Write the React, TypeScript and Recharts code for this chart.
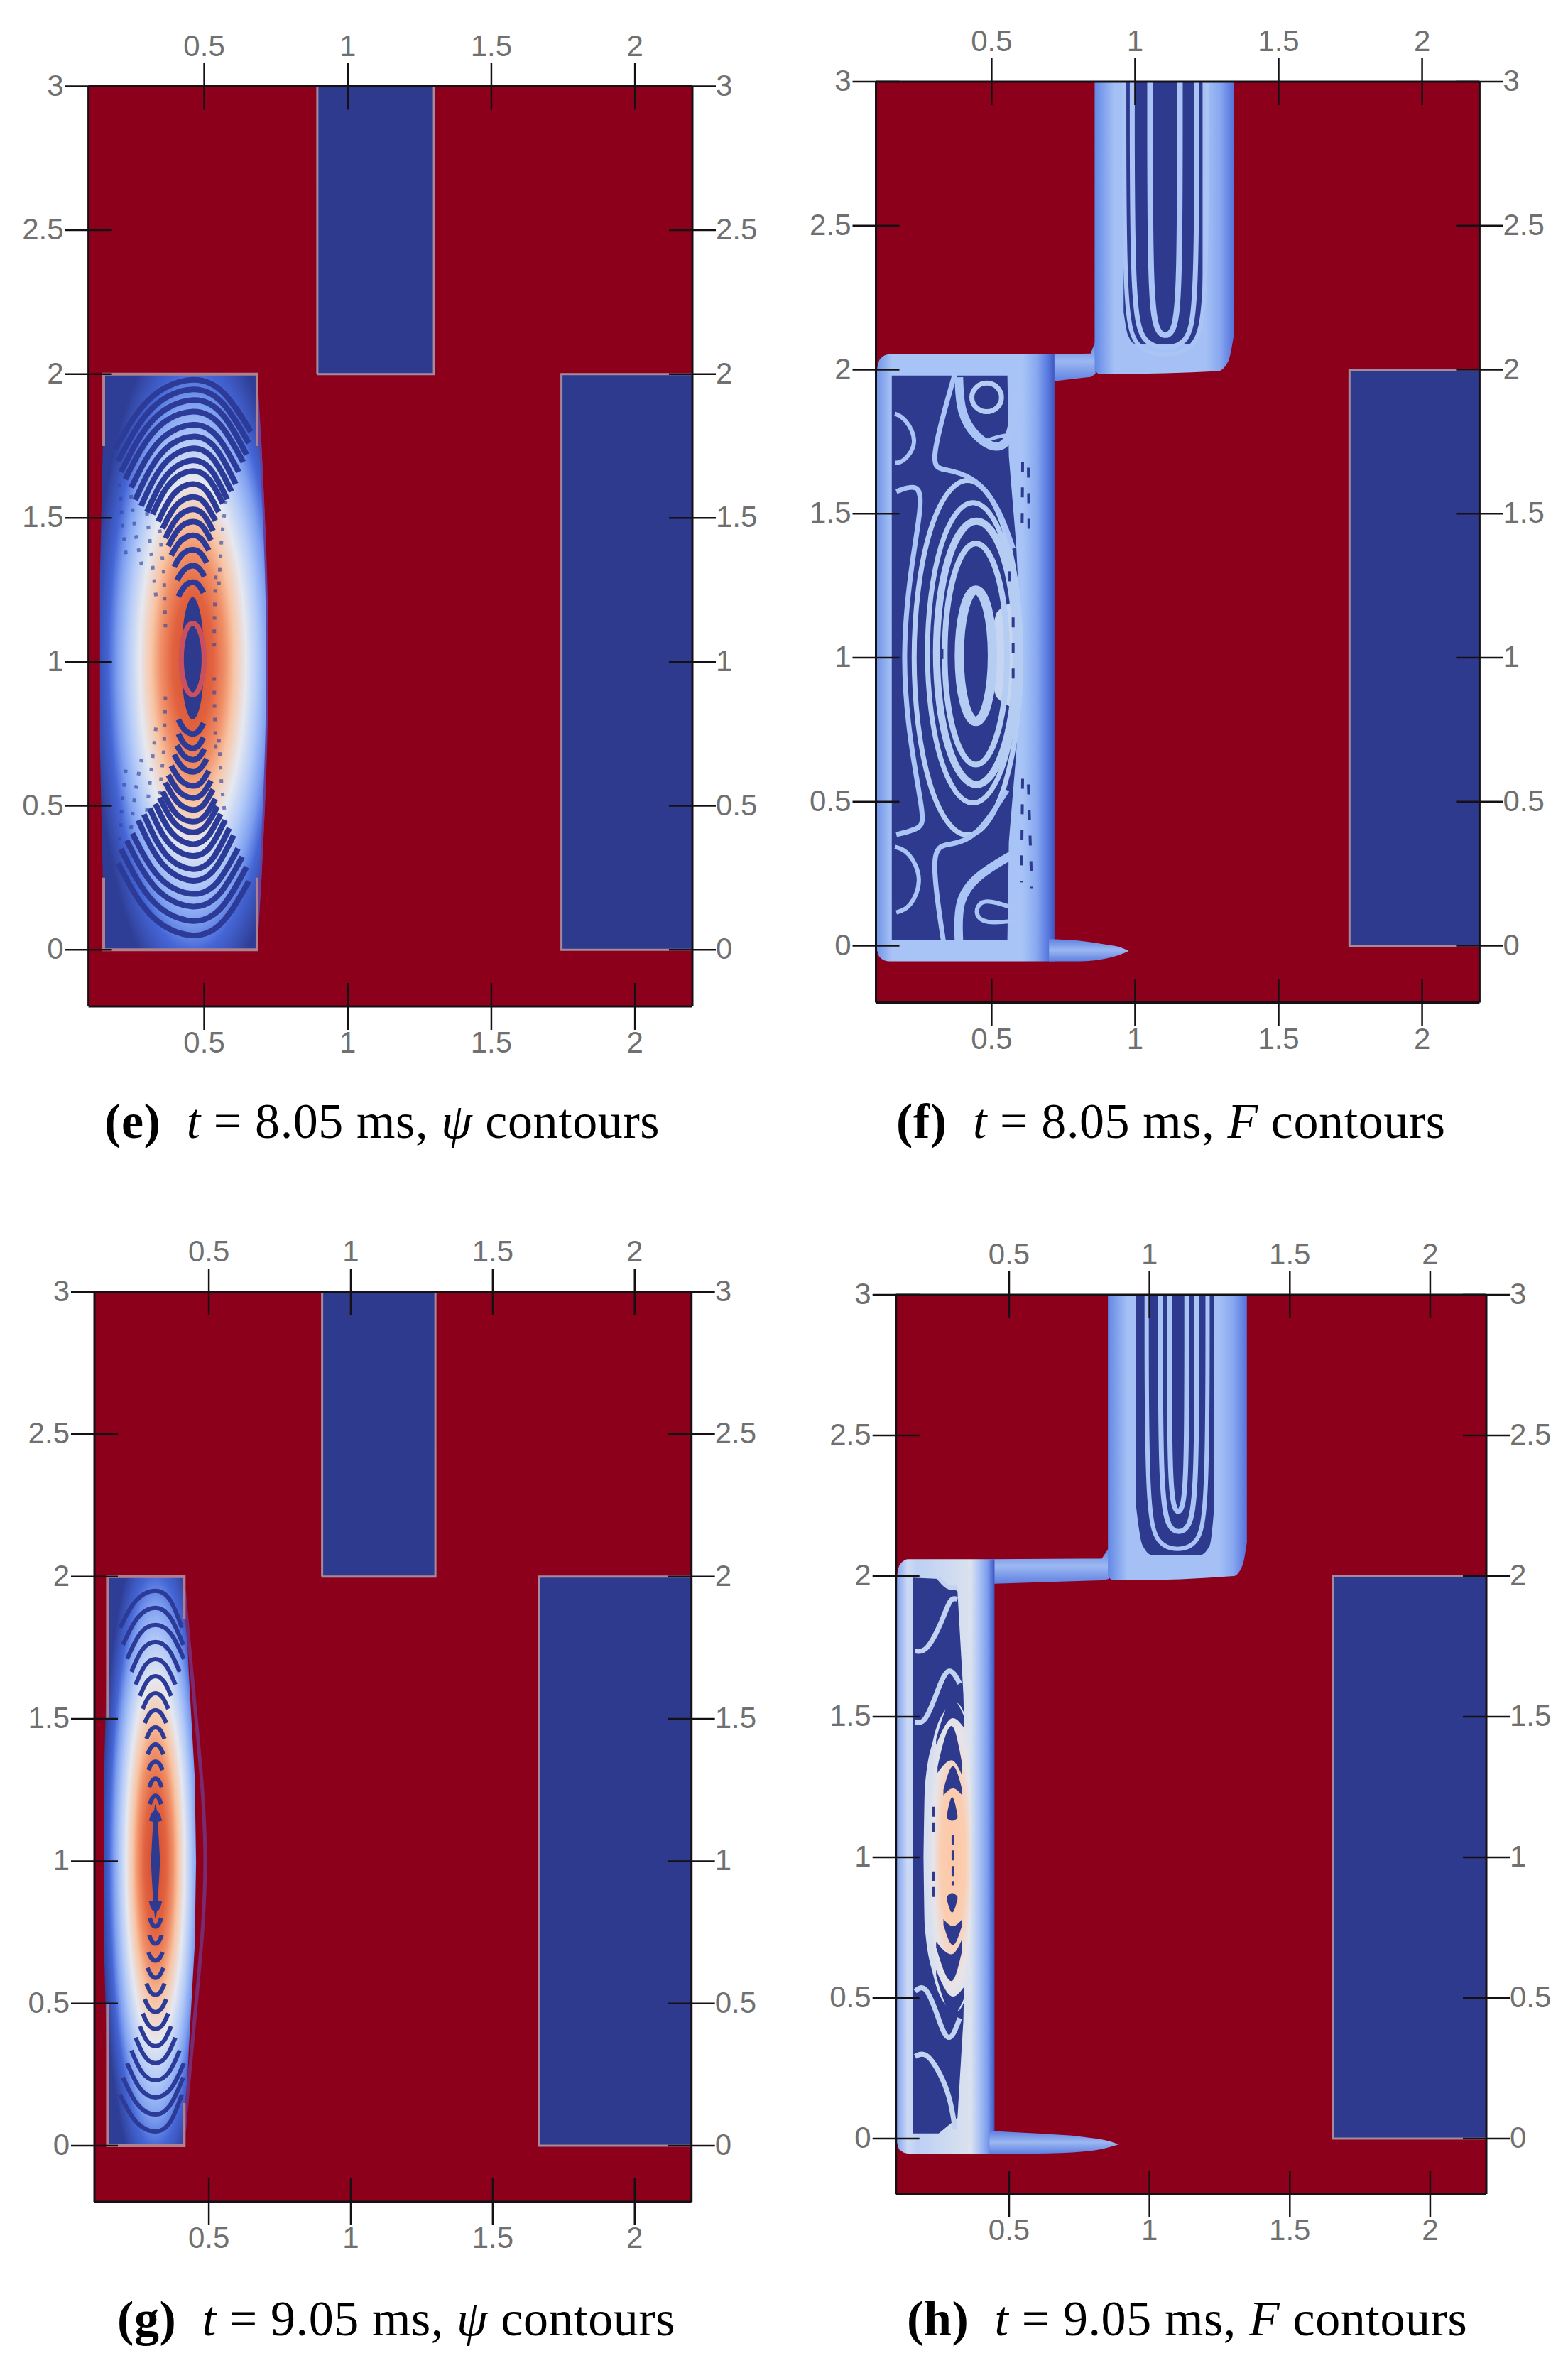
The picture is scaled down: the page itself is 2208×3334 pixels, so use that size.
import React from "react";
import { Area, ComposedChart, Line, XAxis, YAxis } from "recharts";

// axis values shared by all four panels
const xDomain = [0.097, 2.2];
const yDomain = [-0.197, 3];
const xTicks = [0.5, 1, 1.5, 2];
const yTicks = [0, 0.5, 1, 1.5, 2, 2.5, 3];

const RED = "#8c001c";
const DARK = "#2d3a8e";
const EDGE = "#a58a9c";
const PALE = "#a9c4f5";

// filled regions: rows of [x, low, high]
const frameRows = [[0.097, -0.197, 3], [2.2, -0.197, 3]];
const topBlockE = [[0.894, 2, 3], [1.3, 2, 3]];
const rightBlockE = [[1.744, 0, 2], [2.2, 0, 2]];
const topBlockG = [[0.899, 2, 3], [1.298, 2, 3]];
const rightBlockG = [[1.663, 0, 2], [2.2, 0, 2]];
const rightBlockF = [[1.747, 0, 2], [2.2, 0, 2]];
const rightBlockH = [[1.653, 0, 2], [2.2, 0, 2]];

const bulgeE = [[0.137, 0.7, 1.3], [0.149, 0.15, 1.85], [0.1491, 0, 2], [0.684, 0, 2], [0.7, 0.25, 1.75], [0.715, 0.6, 1.4], [0.72, 1, 1]];
const bulgeG = [[0.132, 0.65, 1.35], [0.143, 0.2, 1.8], [0.1431, 0, 2], [0.413, 0, 2], [0.43, 0.35, 1.65], [0.45, 0.7, 1.3], [0.455, 1, 1]];
const coreE = [[0.42, 1.01, 1.01], [0.43, 0.87, 1.15], [0.46, 0.8, 1.225], [0.49, 0.87, 1.15], [0.5, 1.01, 1.01]];
const coreG = [[0.296, 1, 1], [0.312, 0.8, 1.2], [0.328, 1, 1]];

const columnF = [[0.097, 0.0, 1.98], [0.11, -0.04, 2.035], [0.14, -0.054, 2.053], [0.719, -0.054, 2.053]];
const linkF = [[0.7, 1.958, 2.053], [0.845, 1.975, 2.056], [0.862, 1.985, 2.1]];
const channelF = [[0.859, 2.0, 3], [0.875, 1.985, 3], [0.92, 1.985, 3], [1.29, 1.995, 3], [1.325, 2.03, 3], [1.344, 2.12, 3]];
const tailF = [[0.7, -0.054, 0.024], [0.8, -0.054, 0.018], [0.9, -0.044, 0.004], [0.95, -0.03, -0.006], [0.978, -0.018, -0.018]];
const innerF = [[0.152, 0.34, 1.58], [0.1521, 0.02, 1.98], [0.555, 0.02, 1.98], [0.56, 0.36, 1.7], [0.585, 0.66, 1.4], [0.6, 0.95, 1.1]];
const glowF = [[0.49, 0.98, 1.0], [0.52, 0.86, 1.16], [0.6, 0.82, 1.2]];
const shaftF = [[0.96, 2.2, 3], [0.975, 2.12, 3], [1.0, 2.09, 3], [1.2, 2.09, 3], [1.225, 2.12, 3], [1.235, 2.2, 3]];

const columnH = [[0.097, 0.0, 1.98], [0.11, -0.04, 2.04], [0.14, -0.053, 2.06], [0.448, -0.053, 2.06]];
const linkH = [[0.43, 1.972, 2.06], [0.83, 1.985, 2.062], [0.855, 1.99, 2.1]];
const channelH = [[0.852, 2.0, 3], [0.87, 1.985, 3], [0.92, 1.985, 3], [1.3, 2.0, 3], [1.332, 2.04, 3], [1.347, 2.12, 3]];
const tailH = [[0.43, -0.053, 0.027], [0.6, -0.053, 0.018], [0.78, -0.045, 0.004], [0.86, -0.03, -0.01], [0.89, -0.021, -0.021]];
const innerH = [[0.157, 0.018, 1.994], [0.249, 0.018, 1.99], [0.316, 0.073, 1.946], [0.337, 0.42, 1.58], [0.345, 0.8, 1.25]];
const haloH = [[0.195, 1, 1], [0.2, 0.75, 1.25], [0.23, 0.58, 1.42], [0.27, 0.48, 1.52], [0.31, 0.45, 1.55], [0.345, 0.5, 1.5], [0.36, 0.7, 1.3], [0.365, 1, 1]];
const shaftH = [[0.952, 2.25, 3], [0.975, 2.11, 3], [1.01, 2.075, 3], [1.18, 2.075, 3], [1.215, 2.11, 3], [1.231, 2.25, 3]];
const crescentsH = [
  [[0.278, 1.139, 1.15], [0.297, 1.13, 1.214], [0.316, 1.139, 1.15]],
  [[0.266, 1.22, 1.24], [0.3, 1.245, 1.324], [0.333, 1.22, 1.24]],
  [[0.245, 1.3, 1.32], [0.295, 1.345, 1.467], [0.333, 1.29, 1.33]],
  [[0.24, 1.4, 1.42], [0.3, 1.495, 1.56], [0.34, 1.46, 1.5]],
  [[0.278, 0.85, 0.861], [0.297, 0.804, 0.873], [0.316, 0.85, 0.861]],
  [[0.266, 0.76, 0.78], [0.3, 0.688, 0.755], [0.333, 0.76, 0.78]],
  [[0.24, 0.68, 0.7], [0.295, 0.56, 0.655], [0.333, 0.67, 0.71]],
  [[0.24, 0.58, 0.6], [0.3, 0.44, 0.505], [0.34, 0.5, 0.54]],
];

// contour lines: flat x, y, x, y ... lists
const outlineTopE = [0.894, 2, 0.894, 3, 1.3, 3, 1.3, 2, 0.894, 2];
const outlineRightE = [2.2, 2, 1.744, 2, 1.744, 0, 2.2, 0];
const outlineTopG = [0.899, 2, 0.899, 3, 1.298, 3, 1.298, 2, 0.899, 2];
const outlineRightG = [2.2, 2, 1.663, 2, 1.663, 0, 2.2, 0];
const outlineRightF = [2.2, 2, 1.747, 2, 1.747, 0, 2.2, 0];
const outlineRightH = [2.2, 2, 1.653, 2, 1.653, 0, 2.2, 0];

const psiEdgesE = [
  [0.15, 1.75, 0.15, 2, 0.684, 2, 0.684, 1.75],
  [0.15, 0.25, 0.15, 0, 0.684, 0, 0.684, 0.25],
];
const psiRimE = [0.684, 1.95, 0.708, 1.5, 0.72, 1, 0.708, 0.5, 0.684, 0.05];
const psiEdgesG = [
  [0.143, 1.5, 0.143, 2, 0.413, 2, 0.413, 1.85],
  [0.143, 0.5, 0.143, 0, 0.413, 0, 0.413, 0.15],
];
const psiRimG = [0.413, 1.95, 0.455, 1.5, 0.487, 1, 0.455, 0.5, 0.413, 0.05];

const psiDotsE = [
  [0.205, 1.62, 0.215, 1.48, 0.23, 1.35],
  [0.245, 1.58, 0.26, 1.45, 0.285, 1.32],
  [0.3, 1.52, 0.315, 1.38, 0.335, 1.2],
  [0.345, 1.46, 0.36, 1.3, 0.365, 1.12],
  [0.575, 1.56, 0.56, 1.42, 0.55, 1.25],
  [0.54, 1.3, 0.535, 1.12, 0.535, 1.05],
  [0.205, 0.38, 0.215, 0.52, 0.23, 0.65],
  [0.245, 0.42, 0.26, 0.55, 0.285, 0.68],
  [0.3, 0.48, 0.315, 0.62, 0.335, 0.8],
  [0.345, 0.54, 0.36, 0.7, 0.365, 0.88],
  [0.575, 0.44, 0.56, 0.58, 0.55, 0.75],
  [0.54, 0.7, 0.535, 0.88, 0.535, 0.95],
];
const psiRingE = [0.504, 1.01, 0.491, 1.107, 0.46, 1.148, 0.429, 1.107, 0.416, 1.01, 0.429, 0.913, 0.46, 0.872, 0.491, 0.913];

const psiArcsE = [
  [0.19, 1.74, 0.3115, 1.915, 0.46, 1.98, 0.571, 1.931, 0.6625, 1.8],
  [0.2, 1.697, 0.317, 1.88, 0.46, 1.947, 0.567, 1.896, 0.655, 1.76],
  [0.21, 1.66, 0.3225, 1.842, 0.46, 1.91, 0.563, 1.86, 0.6475, 1.72],
  [0.225, 1.635, 0.331, 1.807, 0.46, 1.87, 0.557, 1.822, 0.636, 1.694],
  [0.246, 1.606, 0.342, 1.765, 0.46, 1.824, 0.548, 1.78, 0.62, 1.66],
  [0.26, 1.563, 0.35, 1.724, 0.46, 1.783, 0.5425, 1.739, 0.61, 1.618],
  [0.28, 1.542, 0.361, 1.688, 0.46, 1.742, 0.534, 1.702, 0.595, 1.592],
  [0.3, 1.52, 0.372, 1.651, 0.46, 1.7, 0.526, 1.664, 0.58, 1.565],
  [0.32, 1.513, 0.383, 1.6225, 0.46, 1.663, 0.518, 1.633, 0.565, 1.5505],
  [0.34, 1.488, 0.394, 1.583, 0.46, 1.618, 0.5095, 1.592, 0.55, 1.5205],
  [0.355, 1.463, 0.402, 1.543, 0.46, 1.573, 0.503, 1.551, 0.539, 1.4905],
  [0.365, 1.43, 0.408, 1.503, 0.46, 1.53, 0.499, 1.51, 0.531, 1.455],
  [0.375, 1.402, 0.413, 1.464, 0.46, 1.487, 0.495, 1.47, 0.524, 1.423],
  [0.385, 1.37, 0.419, 1.421, 0.46, 1.44, 0.491, 1.426, 0.516, 1.3875],
  [0.395, 1.33, 0.424, 1.374, 0.46, 1.39, 0.487, 1.378, 0.509, 1.345],
  [0.405, 1.284, 0.43, 1.32, 0.46, 1.334, 0.483, 1.324, 0.501, 1.2965],
  [0.41, 1.227, 0.4325, 1.2635, 0.46, 1.277, 0.481, 1.267, 0.4975, 1.24],
  [0.2, 0.3, 0.317, 0.1175, 0.46, 0.05, 0.567, 0.1, 0.655, 0.2375],
  [0.21, 0.35, 0.3225, 0.1675, 0.46, 0.1, 0.563, 0.15, 0.6475, 0.2875],
  [0.23, 0.38, 0.3335, 0.212, 0.46, 0.15, 0.555, 0.196, 0.6325, 0.3225],
  [0.25, 0.404, 0.3445, 0.251, 0.46, 0.194, 0.547, 0.236, 0.6175, 0.3515],
  [0.27, 0.45, 0.3555, 0.297, 0.46, 0.24, 0.538, 0.282, 0.6025, 0.3975],
  [0.29, 0.47, 0.3665, 0.331, 0.46, 0.28, 0.53, 0.318, 0.5875, 0.4225],
  [0.31, 0.491, 0.3775, 0.3705, 0.46, 0.326, 0.522, 0.359, 0.5725, 0.45],
  [0.33, 0.507, 0.3885, 0.405, 0.46, 0.367, 0.5135, 0.395, 0.5575, 0.472],
  [0.345, 0.528, 0.397, 0.44, 0.46, 0.408, 0.507, 0.432, 0.546, 0.498],
  [0.355, 0.55, 0.402, 0.473, 0.46, 0.445, 0.503, 0.466, 0.539, 0.524],
  [0.365, 0.581, 0.408, 0.512, 0.46, 0.486, 0.499, 0.505, 0.531, 0.557],
  [0.375, 0.607, 0.413, 0.549, 0.46, 0.527, 0.495, 0.543, 0.524, 0.587],
  [0.385, 0.639, 0.419, 0.588, 0.46, 0.569, 0.491, 0.583, 0.516, 0.6215],
  [0.395, 0.678, 0.424, 0.634, 0.46, 0.618, 0.487, 0.63, 0.509, 0.663],
  [0.405, 0.71, 0.43, 0.6735, 0.46, 0.66, 0.483, 0.67, 0.501, 0.6975],
  [0.41, 0.75, 0.4325, 0.7135, 0.46, 0.7, 0.481, 0.71, 0.4975, 0.7375],
  [0.41, 0.8, 0.4325, 0.7635, 0.46, 0.75, 0.481, 0.76, 0.4975, 0.7875],
];

const psiArcsG = [
  [0.187, 1.82, 0.243, 1.915, 0.312, 1.95, 0.365, 1.915, 0.405, 1.82],
  [0.197, 1.76, 0.249, 1.855, 0.312, 1.89, 0.365, 1.855, 0.41, 1.76],
  [0.212, 1.71, 0.257, 1.798, 0.312, 1.83, 0.367, 1.798, 0.412, 1.71],
  [0.227, 1.665, 0.265, 1.742, 0.312, 1.77, 0.359, 1.742, 0.397, 1.665],
  [0.242, 1.62, 0.274, 1.686, 0.312, 1.71, 0.35, 1.686, 0.382, 1.62],
  [0.257, 1.58, 0.282, 1.631, 0.312, 1.65, 0.342, 1.631, 0.367, 1.58],
  [0.267, 1.535, 0.287, 1.575, 0.312, 1.59, 0.337, 1.575, 0.357, 1.535],
  [0.274, 1.485, 0.291, 1.518, 0.312, 1.53, 0.333, 1.518, 0.35, 1.485],
  [0.28, 1.43, 0.294, 1.459, 0.312, 1.47, 0.33, 1.459, 0.344, 1.43],
  [0.284, 1.375, 0.297, 1.4, 0.312, 1.41, 0.327, 1.4, 0.34, 1.375],
  [0.287, 1.32, 0.298, 1.342, 0.312, 1.35, 0.326, 1.342, 0.337, 1.32],
  [0.29, 1.26, 0.3, 1.282, 0.312, 1.29, 0.324, 1.282, 0.334, 1.26],
  [0.292, 1.2, 0.301, 1.222, 0.312, 1.23, 0.323, 1.222, 0.332, 1.2],
  [0.296, 1.14, 0.303, 1.162, 0.312, 1.17, 0.321, 1.162, 0.328, 1.14],
  [0.187, 0.18, 0.243, 0.085, 0.312, 0.05, 0.365, 0.085, 0.405, 0.18],
  [0.197, 0.24, 0.249, 0.145, 0.312, 0.11, 0.365, 0.145, 0.41, 0.24],
  [0.212, 0.29, 0.257, 0.202, 0.312, 0.17, 0.367, 0.202, 0.412, 0.29],
  [0.227, 0.335, 0.265, 0.258, 0.312, 0.23, 0.359, 0.258, 0.397, 0.335],
  [0.242, 0.38, 0.274, 0.314, 0.312, 0.29, 0.35, 0.314, 0.382, 0.38],
  [0.257, 0.42, 0.282, 0.369, 0.312, 0.35, 0.342, 0.369, 0.367, 0.42],
  [0.267, 0.465, 0.287, 0.425, 0.312, 0.41, 0.337, 0.425, 0.357, 0.465],
  [0.274, 0.515, 0.291, 0.482, 0.312, 0.47, 0.333, 0.482, 0.35, 0.515],
  [0.28, 0.57, 0.294, 0.541, 0.312, 0.53, 0.33, 0.541, 0.344, 0.57],
  [0.284, 0.625, 0.297, 0.6, 0.312, 0.59, 0.327, 0.6, 0.34, 0.625],
  [0.287, 0.68, 0.298, 0.658, 0.312, 0.65, 0.326, 0.658, 0.337, 0.68],
  [0.29, 0.74, 0.3, 0.718, 0.312, 0.71, 0.324, 0.718, 0.334, 0.74],
  [0.292, 0.8, 0.301, 0.778, 0.312, 0.77, 0.323, 0.778, 0.332, 0.8],
  [0.296, 0.86, 0.303, 0.838, 0.312, 0.83, 0.321, 0.838, 0.328, 0.86],
];

const ringsF = [
  { w: 7, pts: [0.622, 1.0, 0.562, 1.482, 0.416, 1.682, 0.27, 1.482, 0.21, 1.0, 0.27, 0.518, 0.416, 0.318, 0.562, 0.518] },
  { w: 7, pts: [0.611, 1.017, 0.559, 1.425, 0.435, 1.595, 0.311, 1.425, 0.259, 1.017, 0.311, 0.609, 0.435, 0.439, 0.559, 0.609] },
  { w: 10, pts: [0.601, 1.017, 0.556, 1.375, 0.447, 1.524, 0.338, 1.375, 0.293, 1.017, 0.338, 0.659, 0.447, 0.51, 0.556, 0.659] },
  { w: 8, pts: [0.565, 1.013, 0.53, 1.313, 0.445, 1.439, 0.36, 1.313, 0.325, 1.013, 0.36, 0.713, 0.445, 0.587, 0.53, 0.713] },
  { w: 13, pts: [0.509, 1.007, 0.49, 1.186, 0.445, 1.26, 0.4, 1.186, 0.381, 1.007, 0.4, 0.828, 0.445, 0.754, 0.49, 0.828] },
  { w: 7, pts: [0.54, 1.904, 0.523, 1.943, 0.483, 1.959, 0.443, 1.943, 0.425, 1.904, 0.443, 1.865, 0.483, 1.849, 0.523, 1.865] },
];
const wispsF = [
  { w: 7, pts: [0.373, 1.989, 0.279, 1.662, 0.332, 1.655, 0.431, 1.634, 0.521, 1.535, 0.575, 1.379] },
  { w: 7, pts: [0.168, 1.577, 0.246, 1.606, 0.258, 1.535, 0.217, 1.308, 0.188, 1.01, 0.213, 0.712, 0.266, 0.442, 0.254, 0.407, 0.168, 0.386] },
  { w: 6, pts: [0.163, 1.847, 0.2, 1.833, 0.246, 1.747, 0.192, 1.677, 0.163, 1.677] },
  { w: 6, pts: [0.163, 0.343, 0.213, 0.329, 0.262, 0.23, 0.217, 0.13, 0.168, 0.116] },
  { w: 7, pts: [0.332, 0.017, 0.283, 0.343, 0.349, 0.35, 0.447, 0.372, 0.554, 0.54] },
  { w: 12, pts: [0.386, 1.974, 0.39, 1.847, 0.447, 1.762, 0.521, 1.72, 0.57, 1.76, 0.587, 1.92] },
  { w: 12, pts: [0.386, 0.017, 0.381, 0.159, 0.447, 0.244, 0.57, 0.315] },
  { w: 6, pts: [0.587, 0.088, 0.472, 0.074, 0.439, 0.116, 0.464, 0.159, 0.513, 0.152, 0.579, 0.13] },
  { w: 5, pts: [0.47, 1.75, 0.52, 1.768, 0.565, 1.775] },
];
const dashesF = [
  [0.608, 1.68, 0.606, 1.42],
  [0.628, 1.66, 0.63, 1.44],
  [0.575, 1.14, 0.575, 0.925],
  [0.563, 1.3, 0.561, 1.22],
  [0.608, 0.58, 0.604, 0.22],
  [0.628, 0.56, 0.64, 0.2],
  [0.327, 1.03, 0.327, 0.97],
];
const uLinesF = [
  { w: 8, pts: [1.052, 3, 1.052, 2.25, 1.075, 2.13, 1.105, 2.115, 1.135, 2.13, 1.156, 2.25, 1.156, 3] },
  { w: 7, pts: [0.99, 3, 0.99, 2.2, 1.03, 2.09, 1.105, 2.07, 1.18, 2.09, 1.215, 2.2, 1.215, 3] },
];
const uDarkF = [0.962, 3, 0.962, 2.2, 1.0, 2.07, 1.105, 2.045, 1.21, 2.07, 1.25, 2.2, 1.25, 3];

const linesH = [
  { w: 7, pts: [0.165, 1.481, 0.199, 1.474, 0.24, 1.577, 0.283, 1.693, 0.324, 1.618] },
  { w: 7, pts: [0.165, 1.734, 0.207, 1.727, 0.266, 1.85, 0.291, 1.925, 0.316, 1.918] },
  { w: 6, pts: [0.249, 1.994, 0.283, 1.953, 0.316, 1.96] },
  { w: 7, pts: [0.165, 0.524, 0.199, 0.552, 0.24, 0.456, 0.283, 0.319, 0.324, 0.428] },
  { w: 7, pts: [0.165, 0.292, 0.203, 0.312, 0.257, 0.23, 0.291, 0.141, 0.308, 0.032] },
];
const dashesH = [
  [0.3, 1.08, 0.3, 0.9],
  [0.231, 1.18, 0.232, 1.08],
  [0.231, 0.95, 0.232, 0.85],
];
const uLinesH = [
  { w: 7, pts: [1.071, 3, 1.071, 2.32, 1.09, 2.235, 1.102, 2.227, 1.115, 2.235, 1.133, 2.32, 1.133, 3] },
  { w: 7, pts: [1.039, 3, 1.039, 2.28, 1.07, 2.165, 1.104, 2.155, 1.14, 2.165, 1.169, 2.28, 1.169, 3] },
  { w: 6, pts: [0.99, 3, 0.99, 2.22, 1.03, 2.11, 1.1, 2.09, 1.17, 2.11, 1.207, 2.22, 1.207, 3] },
];

const xyz = (flat: number[]) => {
  const out: { x: number; y: number }[] = [];
  for (let i = 0; i < flat.length; i += 2) out.push({ x: flat[i], y: flat[i + 1] });
  return out;
};
const bands = (rows: number[][]) => rows.map(([x, lo, hi]) => ({ x, band: [lo, hi] }));

type Layer = any;
const area = (rows: number[][], fill: string, type = "linear"): Layer => ({ kind: "area", rows, fill, type });
const line = (pts: number[], stroke: string, width: number, type = "linear", dash?: string, opacity = 1): Layer => ({ kind: "line", pts, stroke, width, type, dash, opacity });

const psiStops = [
  ["0%", "#cf4a33"],
  ["20%", "#e2623f"],
  ["32%", "#f09068"],
  ["41%", "#f8c4a4"],
  ["53%", "#e6e8f0"],
  ["65%", "#b0c8f8"],
  ["75%", "#7fa0f0"],
  ["84%", "#4566d6"],
  ["100%", "#2e3d95"],
];
const columnStopsF = [
  ["0%", "#6f92e8"],
  ["9%", "#a8c4f6"],
  ["82%", "#a8c4f6"],
  ["90%", "#88a8f0"],
  ["96%", "#5a7ce0"],
  ["100%", "#4058c0"],
];
const columnStopsH = [
  ["0%", "#7ea0ee"],
  ["12%", "#cddaf4"],
  ["22%", "#bcd0f4"],
  ["76%", "#dbe2ee"],
  ["85%", "#a8c0f4"],
  ["93%", "#7a9cec"],
  ["100%", "#3f55c0"],
];
const channelStops = [
  ["0%", "#6288e6"],
  ["14%", "#a4c0f4"],
  ["80%", "#a4c0f4"],
  ["90%", "#88a8f0"],
  ["100%", "#5572dc"],
];
const haloStops = [
  ["0%", "#fdc8a8"],
  ["45%", "#fbcdb0"],
  ["75%", "#e8e4e8"],
  ["100%", "#d6dff0"],
];
const linkStops = [
  ["0%", "#5f80e0"],
  ["50%", "#9cb8f2"],
  ["100%", "#5f80e0"],
];

const panels = [
  {
    id: "e",
    left: 124.6,
    right: 975,
    top: 121.5,
    bottom: 1417,
    chartLeft: 0,
    chartTop: 0,
    gradients: [{ id: "e-psi", radial: true, cx: "55.4%", cy: "50%", r: "60%", stops: psiStops }],
    layers: [
      area(frameRows, RED),
      area(topBlockE, DARK),
      area(rightBlockE, DARK),
      line(outlineTopE, EDGE, 3),
      line(outlineRightE, EDGE, 3),
      area(bulgeE, "url(#e-psi)"),
      line(psiRimE, "#6a3f9a", 3, "natural"),
      ...psiEdgesE.map((p) => line(p, "#b0808f", 4)),
      ...psiDotsE.map((p) => line(p, "#34479f", 5, "linear", "5 14", 0.65)),
      area(coreE, DARK, "natural"),
      ...psiArcsE.map((p) => line(p, "#2c3b98", 8, "natural")),
      line(psiRingE, "#c9505c", 7, "basisClosed"),
    ],
  },
  {
    id: "f",
    left: 1233.5,
    right: 2083.4,
    top: 115,
    bottom: 1411.5,
    chartLeft: 1104,
    chartTop: 0,
    gradients: [
      { id: "f-col", stops: columnStopsF },
      { id: "f-ch", stops: channelStops },
      { id: "f-tail", vertical: true, stops: linkStops },
    ],
    layers: [
      area(frameRows, RED),
      area(rightBlockF, DARK),
      line(outlineRightF, EDGE, 3),
      area(linkF, "url(#f-tail)"),
      area(channelF, "url(#f-ch)", "monotone"),
      area(columnF, "url(#f-col)", "monotone"),
      area(tailF, "url(#f-tail)", "monotone"),
      area(shaftF, DARK, "monotone"),
      line(uDarkF, PALE, 6, "basis"),
      ...uLinesF.map((l) => line(l.pts, PALE, l.w, "basis")),
      area(innerF, DARK),
      area(glowF, "#c6d6f1", "monotone"),
      ...ringsF.map((l) => line(l.pts, "#b6cdf3", l.w, "basisClosed")),
      ...wispsF.map((l) => line(l.pts, PALE, l.w, "basis")),
      ...dashesF.map((p) => line(p, DARK, 4, "linear", "14 22")),
    ],
  },
  {
    id: "g",
    left: 133,
    right: 973.7,
    top: 1819,
    bottom: 3100,
    chartLeft: 0,
    chartTop: 1667,
    gradients: [{ id: "g-psi", radial: true, cx: "55.6%", cy: "50%", r: "60%", stops: psiStops }],
    layers: [
      area(frameRows, RED),
      area(topBlockG, DARK),
      area(rightBlockG, DARK),
      line(outlineTopG, EDGE, 3),
      line(outlineRightG, EDGE, 3),
      area(bulgeG, "url(#g-psi)"),
      line(psiRimG, "#7a2a70", 5, "natural"),
      ...psiEdgesG.map((p) => line(p, "#b0808f", 4)),
      area(coreG, DARK, "natural"),
      ...psiArcsG.map((p) => line(p, "#2c3b98", 6, "natural")),
    ],
  },
  {
    id: "h",
    left: 1261.7,
    right: 2093,
    top: 1823,
    bottom: 3089,
    chartLeft: 1104,
    chartTop: 1667,
    gradients: [
      { id: "h-col", stops: columnStopsH },
      { id: "h-ch", stops: channelStops },
      { id: "h-tail", vertical: true, stops: linkStops },
      { id: "h-halo", radial: true, cx: "62%", cy: "50%", r: "55%", stops: haloStops },
    ],
    layers: [
      area(frameRows, RED),
      area(rightBlockH, DARK),
      line(outlineRightH, EDGE, 3),
      area(linkH, "url(#h-tail)"),
      area(channelH, "url(#h-ch)", "monotone"),
      area(columnH, "url(#h-col)", "monotone"),
      area(tailH, "url(#h-tail)", "monotone"),
      area(shaftH, DARK, "monotone"),
      ...uLinesH.map((l) => line(l.pts, PALE, l.w, "basis")),
      area(innerH, DARK),
      area(haloH, "url(#h-halo)", "monotone"),
      ...crescentsH.map((r) => area(r, DARK, "monotone")),
      ...linesH.map((l) => line(l.pts, "#c2d2f0", l.w, "basis")),
      ...dashesH.map((p) => line(p, DARK, 4, "linear", "14 8")),
    ],
  },
];

const captions = [
  { tag: "(e)", time: "8.05", sym: "ψ", left: 147, base: 1603 },
  { tag: "(f)", time: "8.05", sym: "F", left: 1262, base: 1603 },
  { tag: "(g)", time: "9.05", sym: "ψ", left: 165, base: 3289 },
  { tag: "(h)", time: "9.05", sym: "F", left: 1277, base: 3289 },
];

function AxisTick({ x, y, payload, side }: any) {
  const len = 33;
  const style = { fontFamily: "'Liberation Sans'", fontSize: 42, fill: "#707070" };
  const label = String(payload.value);
  if (side === "top" || side === "bottom") {
    return (
      <g>
        <line x1={x} x2={x} y1={y - len} y2={y + len} stroke="#141014" strokeWidth={2.5} />
        <text x={x} y={side === "top" ? y - 43 : y + 65} textAnchor="middle" {...style}>{label}</text>
      </g>
    );
  }
  return (
    <g>
      <line x1={x - len} x2={x + len} y1={y} y2={y} stroke="#141014" strokeWidth={2.5} />
      <text x={side === "left" ? x - 35 : x + 33} y={y + 13} textAnchor={side === "left" ? "end" : "start"} {...style}>{label}</text>
    </g>
  );
}

function Panel({ panel }: any) {
  const W = 1104;
  const H = 1667;
  // each axis below takes 1px of the margin
  const margin = {
    left: panel.left - panel.chartLeft - 1,
    right: panel.chartLeft + W - panel.right - 1,
    top: panel.top - panel.chartTop - 1,
    bottom: panel.chartTop + H - panel.bottom - 1,
  };
  const axisLine = { stroke: "#141014", strokeWidth: 3 };
  return (
    <div style={{ position: "absolute", left: panel.chartLeft, top: panel.chartTop }}>
      <ComposedChart width={W} height={H} margin={margin}>
        <defs>
          {panel.gradients.map((g: any) =>
            g.radial ? (
              <radialGradient key={g.id} id={g.id} cx={g.cx} cy={g.cy} fx={g.cx} fy={g.cy} r={g.r}>
                {g.stops.map(([o, c]: string[]) => <stop key={o} offset={o} stopColor={c} />)}
              </radialGradient>
            ) : (
              <linearGradient key={g.id} id={g.id} x1="0" y1="0" x2={g.vertical ? "0" : "1"} y2={g.vertical ? "1" : "0"}>
                {g.stops.map(([o, c]: string[]) => <stop key={o} offset={o} stopColor={c} />)}
              </linearGradient>
            )
          )}
        </defs>
        <XAxis xAxisId="b" orientation="bottom" type="number" dataKey="x" domain={xDomain} ticks={xTicks} interval={0} allowDataOverflow height={1} axisLine={axisLine} tickLine={false} tickSize={0} tickMargin={0} tick={(p: any) => <AxisTick {...p} side="bottom" />} />
        <XAxis xAxisId="t" orientation="top" type="number" dataKey="x" domain={xDomain} ticks={xTicks} interval={0} allowDataOverflow height={1} axisLine={axisLine} tickLine={false} tickSize={0} tickMargin={0} tick={(p: any) => <AxisTick {...p} side="top" />} />
        <YAxis yAxisId="l" orientation="left" type="number" domain={yDomain} ticks={yTicks} interval={0} allowDataOverflow width={1} axisLine={axisLine} tickLine={false} tickSize={0} tickMargin={0} tick={(p: any) => <AxisTick {...p} side="left" />} />
        <YAxis yAxisId="r" orientation="right" type="number" domain={yDomain} ticks={yTicks} interval={0} allowDataOverflow width={1} axisLine={axisLine} tickLine={false} tickSize={0} tickMargin={0} tick={(p: any) => <AxisTick {...p} side="right" />} />
        {panel.layers.map((l: any, i: number) =>
          l.kind === "area" ? (
            <Area key={i} xAxisId="b" yAxisId="l" data={bands(l.rows)} dataKey="band" type={l.type} fill={l.fill} fillOpacity={1} stroke="none" dot={false} activeDot={false} isAnimationActive={false} />
          ) : (
            <Line key={i} xAxisId="b" yAxisId="l" data={xyz(l.pts)} dataKey="y" type={l.type} stroke={l.stroke} strokeWidth={l.width} strokeDasharray={l.dash} strokeOpacity={l.opacity} dot={false} activeDot={false} isAnimationActive={false} />
          )
        )}
      </ComposedChart>
    </div>
  );
}

function Caption({ c }: any) {
  return (
    <div style={{ position: "absolute", left: c.left, top: c.base - 64, fontFamily: "'Liberation Serif'", fontSize: 70, lineHeight: "80px", letterSpacing: 0.6, whiteSpace: "pre", color: "#000" }}>
      <b>{c.tag}</b>
      {"  "}
      <i>t</i>
      {" = " + c.time + " ms, "}
      <i>{c.sym}</i>
      {" contours"}
    </div>
  );
}

export default function App() {
  return (
    <div style={{ position: "absolute", left: 0, top: 0, width: 2208, height: 3334, background: "#fff" }}>
      {panels.map((p) => <Panel key={p.id} panel={p} />)}
      {captions.map((c) => <Caption key={c.tag} c={c} />)}
    </div>
  );
}
